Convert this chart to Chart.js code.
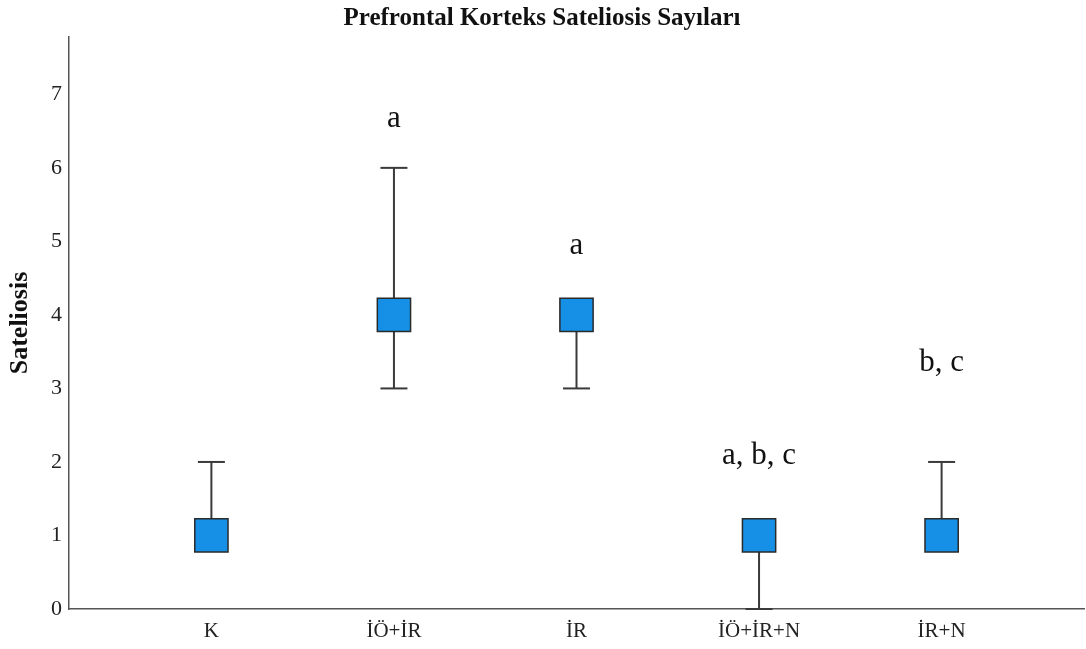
<!DOCTYPE html>
<html lang="tr">
<head>
    <meta charset="UTF-8">
    <title>Prefrontal Korteks Sateliosis Sayıları</title>
    <script src="https://cdn.jsdelivr.net/npm/chart.js"></script>
    <style>
        html, body { margin: 0; padding: 0; background: #fff; overflow: hidden; }
        #wrap { width: 1086px; height: 649px; }
    </style>
</head>
<body>
    <div id="wrap"><canvas id="chart"></canvas></div>

    <script>
        // groups and values
        const groups = ['K', 'İÖ+İR', 'İR', 'İÖ+İR+N', 'İR+N'];
        const medians = [1, 4, 4, 1, 1];
        const lows = [1, 3, 3, 0, 1];
        const highs = [2, 6, 4, 1, 2];
        // significance letters and the height they sit at
        const letters = ['', 'a', 'a', 'a, b, c', 'b, c'];
        const letterY = [null, 6.55, 4.83, 1.97, 3.24];
        const yTicks = [0, 1, 2, 3, 4, 5, 6, 7];

        const serif = '"Liberation Serif", "Times New Roman", serif';

        // whisker stems: pairs of points with a gap between groups
        const stems = [];
        groups.forEach((g, i) => {
            stems.push({ x: i, y: lows[i] });
            stems.push({ x: i, y: highs[i] });
            stems.push({ x: i + 0.5, y: null });
        });
        const caps = [];
        groups.forEach((g, i) => {
            caps.push({ x: i, y: lows[i] });
            caps.push({ x: i, y: highs[i] });
        });
        const boxes = medians.map((m, i) => ({ x: i, y: m }));

        const letterPlugin = {
            id: 'letters',
            afterDatasetsDraw(chart) {
                const { ctx, scales } = chart;
                ctx.save();
                ctx.font = '31px ' + serif;
                ctx.fillStyle = '#111';
                ctx.textAlign = 'center';
                ctx.textBaseline = 'alphabetic';
                letters.forEach((t, i) => {
                    if (!t) return;
                    ctx.fillText(t, scales.x.getPixelForValue(i), scales.y.getPixelForValue(letterY[i]));
                });
                ctx.restore();
            }
        };

        new Chart(document.getElementById('chart'), {
            type: 'scatter',
            data: {
                datasets: [
                    {
                        type: 'line',
                        data: stems,
                        borderColor: '#3a3a3a',
                        borderWidth: 2,
                        pointRadius: 0,
                        spanGaps: false,
                        order: 3
                    },
                    {
                        data: caps,
                        pointStyle: 'line',
                        pointRadius: 13.5,
                        pointHoverRadius: 13.5,
                        borderColor: '#3a3a3a',
                        pointBorderWidth: 2,
                        borderWidth: 2,
                        clip: 4,
                        order: 2
                    },
                    {
                        data: boxes,
                        pointStyle: 'rect',
                        pointRadius: 23.5,
                        pointHoverRadius: 23.5,
                        backgroundColor: '#1590E6',
                        borderColor: '#2a2a2a',
                        borderWidth: 1.5,
                        order: 1
                    }
                ]
            },
            options: {
                responsive: true,
                maintainAspectRatio: false,
                animation: false,
                layout: { autoPadding: false, padding: { top: 0, right: 2, bottom: 0, left: 0 } },
                plugins: {
                    legend: { display: false },
                    tooltip: { enabled: false },
                    title: {
                        display: true,
                        text: 'Prefrontal Korteks Sateliosis Sayıları',
                        color: '#111',
                        font: { family: serif, size: 25, weight: 'bold' },
                        padding: { top: 4, bottom: 3 }
                    }
                },
                scales: {
                    x: {
                        type: 'linear',
                        min: -0.78,
                        max: 4.78,
                        grid: { display: false, drawTicks: false },
                        border: { display: true, color: '#555', width: 1.5 },
                        afterBuildTicks: s => { s.ticks = groups.map((g, i) => ({ value: i })); },
                        afterFit: s => { s.height = 40; s.paddingLeft = 0; s.paddingRight = 0; },
                        ticks: {
                            padding: 10,
                            color: '#222',
                            font: { family: serif, size: 21 },
                            callback: v => groups[v] ?? ''
                        }
                    },
                    y: {
                        min: 0,
                        max: 7.78,
                        grid: { display: false, drawTicks: false },
                        border: { display: true, color: '#555', width: 1.5 },
                        afterBuildTicks: s => { s.ticks = yTicks.map(v => ({ value: v })); },
                        afterFit: s => { s.width = 69; },
                        title: {
                            display: true,
                            text: 'Sateliosis',
                            color: '#111',
                            font: { family: serif, size: 26, weight: 'bold' },
                            padding: { top: 5, bottom: 6 }
                        },
                        ticks: {
                            padding: 7,
                            color: '#222',
                            font: { family: serif, size: 22 }
                        }
                    }
                }
            },
            plugins: [letterPlugin]
        });
    </script>
</body>
</html>
